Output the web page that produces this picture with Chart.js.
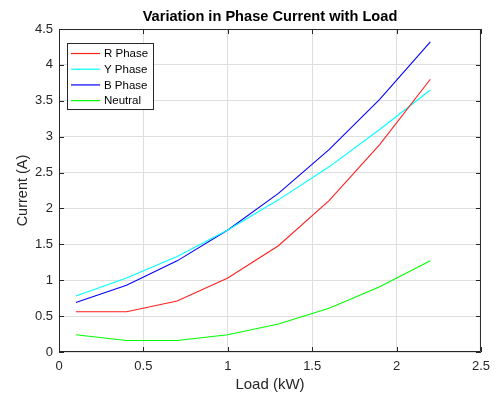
<!DOCTYPE html>
<html>
<head>
<meta charset="utf-8">
<script src="https://cdn.jsdelivr.net/npm/chart.js@4.4.0/dist/chart.umd.min.js"></script>
<style>
  html, body { margin: 0; padding: 0; background: #fff; }
  #wrap { width: 497px; height: 394px; }
</style>
</head>
<body>
<div id="wrap"><canvas id="phaseChart"></canvas></div>
<script>
// load steps (kW) and measured currents (A)
const loadKw = [0.1, 0.4, 0.7, 1.0, 1.3, 1.6, 1.9, 2.2];
const rPhase = [0.56, 0.56, 0.71, 1.03, 1.48, 2.11, 2.89, 3.80];
const yPhase = [0.78, 1.03, 1.33, 1.70, 2.12, 2.58, 3.10, 3.65];
const bPhase = [0.69, 0.93, 1.27, 1.70, 2.21, 2.82, 3.52, 4.32];
const neutral = [0.24, 0.16, 0.16, 0.24, 0.39, 0.61, 0.91, 1.27];

const seriesNames = ['R Phase', 'Y Phase', 'B Phase', 'Neutral'];
const seriesColors = ['#ff2020', '#00ffff', '#0000ff', '#00ff00'];
const xTicks = [0, 0.5, 1, 1.5, 2, 2.5];
const yTicks = [0, 0.5, 1, 1.5, 2, 2.5, 3, 3.5, 4, 4.5];

const axisColor = '#262626';
const fontFam = 'Arial, "Liberation Sans", Helvetica, sans-serif';

function pts(ys) {
  return loadKw.map((x, i) => ({ x: x, y: ys[i] }));
}

const allSeries = [rPhase, yPhase, bPhase, neutral];

// matlab-ish box, inward ticks and the legend inside the axes
const matlabBox = {
  id: 'matlabBox',
  afterDatasetsDraw(chart) {
    const ctx = chart.ctx;
    const a = chart.chartArea;
    const xs = chart.scales.x, ys = chart.scales.y;
    ctx.save();
    ctx.strokeStyle = axisColor;
    ctx.lineWidth = 1;
    ctx.beginPath();
    ctx.rect(a.left + 0.5, a.top + 0.5, a.right - a.left - 1, a.bottom - a.top - 1);
    ctx.stroke();
    const tl = 5;
    ctx.beginPath();
    xTicks.forEach(v => {
      const px = Math.round(xs.getPixelForValue(v)) + 0.5;
      ctx.moveTo(px, a.bottom); ctx.lineTo(px, a.bottom - tl);
      ctx.moveTo(px, a.top); ctx.lineTo(px, a.top + tl);
    });
    yTicks.forEach(v => {
      const py = Math.round(ys.getPixelForValue(v)) + 0.5;
      ctx.moveTo(a.left, py); ctx.lineTo(a.left + tl, py);
      ctx.moveTo(a.right, py); ctx.lineTo(a.right - tl, py);
    });
    ctx.stroke();

    // legend
    const lx = a.left + 8, ly = a.top + 14;
    const lw = 86, lh = 66;
    ctx.fillStyle = '#fff';
    ctx.fillRect(lx, ly, lw, lh);
    ctx.strokeStyle = axisColor;
    ctx.strokeRect(lx + 0.5, ly + 0.5, lw, lh);
    ctx.font = '11.5px ' + fontFam;
    ctx.textBaseline = 'middle';
    chart.data.datasets.forEach((ds, i) => {
      const ry = ly + 10.5 + i * 15.7;
      ctx.strokeStyle = ds.borderColor;
      ctx.lineWidth = 1.2;
      ctx.beginPath();
      ctx.moveTo(lx + 4, ry); ctx.lineTo(lx + 33, ry);
      ctx.stroke();
      ctx.fillStyle = '#000';
      ctx.fillText(ds.label, lx + 37, ry + 0.5);
    });
    ctx.restore();
  }
};

new Chart(document.getElementById('phaseChart'), {
  type: 'line',
  data: {
    datasets: allSeries.map((s, i) => ({
      label: seriesNames[i],
      data: pts(s),
      borderColor: seriesColors[i],
      borderWidth: 1.1,
      pointRadius: 0,
      tension: 0,
      fill: false
    }))
  },
  options: {
    responsive: true,
    maintainAspectRatio: false,
    animation: false,
    layout: { padding: { right: 12, top: 0, left: 0, bottom: 0 } },
    plugins: {
      legend: { display: false },
      tooltip: { enabled: false },
      title: {
        display: true,
        text: 'Variation in Phase Current with Load',
        fullSize: false,
        color: '#000',
        font: { family: fontFam, size: 14.6, weight: 'bold' },
        padding: { top: 8, bottom: 3.5 }
      }
    },
    scales: {
      x: {
        type: 'linear',
        min: 0, max: 2.5,
        afterBuildTicks: s => { s.ticks = xTicks.map(v => ({ value: v })); },
        afterFit: s => { s.height = 42; },
        grid: { color: '#dedede', drawTicks: false },
        border: { display: false },
        ticks: { color: axisColor, padding: 7, maxRotation: 0, callback: v => String(v), font: { family: fontFam, size: 13 } },
        title: { display: true, text: 'Load (kW)', color: axisColor, padding: { top: 0, bottom: 0 }, font: { family: fontFam, size: 15 } }
      },
      y: {
        min: 0, max: 4.5,
        afterBuildTicks: s => { s.ticks = yTicks.map(v => ({ value: v })); },
        afterFit: s => { s.width = 59; },
        grid: { color: '#dedede', drawTicks: false },
        border: { display: false },
        ticks: { color: axisColor, padding: 6, callback: v => String(v), font: { family: fontFam, size: 13 } },
        title: { display: true, text: 'Current (A)', color: axisColor, padding: { top: 14.2, bottom: 0 }, font: { family: fontFam, size: 14.5 } }
      }
    }
  },
  plugins: [matlabBox]
});
</script>
</body>
</html>
